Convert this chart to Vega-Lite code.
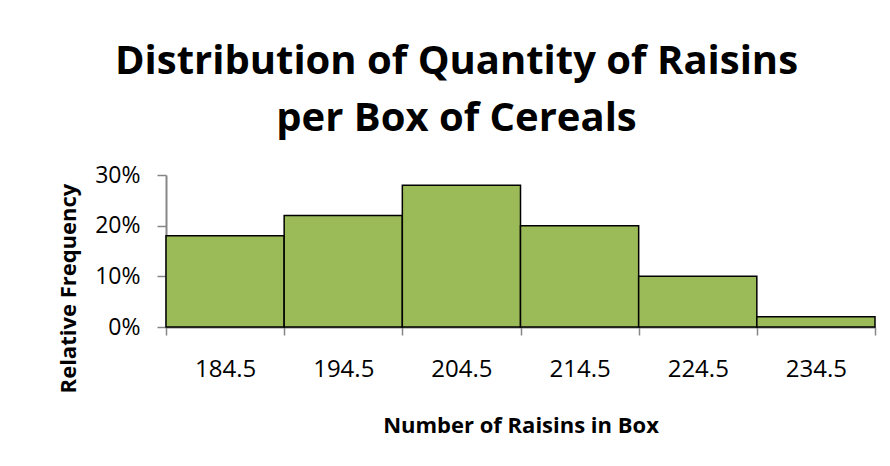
{
  "$schema": "https://vega.github.io/schema/vega-lite/v6.json",
  "width": 709,
  "height": 152,
  "autosize": {"type": "none"},
  "padding": {"left": 166, "top": 175, "right": 15, "bottom": 139},
  "background": "white",
  "config": {"view": {"stroke": null}, "font": "Open Sans"},
  "title": {
    "text": ["Distribution of Quantity of Raisins", "per Box of Cereals"],
    "font": "Open Sans",
    "fontSize": 40,
    "fontWeight": "bold",
    "color": "black",
    "anchor": "middle",
    "dx": -64,
    "offset": 25,
    "lineHeight": 57
  },
  "data": {
    "values": [
      {"midpoint": "184.5", "relFreq": 0.18},
      {"midpoint": "194.5", "relFreq": 0.22},
      {"midpoint": "204.5", "relFreq": 0.28},
      {"midpoint": "214.5", "relFreq": 0.20},
      {"midpoint": "224.5", "relFreq": 0.10},
      {"midpoint": "234.5", "relFreq": 0.02}
    ]
  },
  "mark": {"type": "bar", "fill": "#9BBB59", "stroke": "black", "strokeWidth": 1.5},
  "encoding": {
    "x": {
      "field": "midpoint",
      "type": "ordinal",
      "sort": null,
      "scale": {"paddingInner": 0, "paddingOuter": 0},
      "axis": {
        "title": "Number of Raisins in Box",
        "titleFont": "Open Sans",
        "titleFontSize": 22,
        "titleFontWeight": "bold",
        "titleColor": "black",
        "titlePadding": 34,
        "labelAngle": 0,
        "labelFont": "Open Sans",
        "labelFontSize": 24,
        "labelColor": "black",
        "labelPadding": 22,
        "tickBand": "extent",
        "tickSize": 8,
        "tickColor": "#868686",
        "tickWidth": 1.5,
        "domainColor": "#868686",
        "domainWidth": 2,
        "grid": false
      }
    },
    "y": {
      "field": "relFreq",
      "type": "quantitative",
      "scale": {"domain": [0, 0.3]},
      "axis": {
        "title": "Relative Frequency",
        "format": ".0%",
        "values": [0, 0.1, 0.2, 0.3],
        "titleFont": "Open Sans",
        "titleFontSize": 22,
        "titleFontWeight": "bold",
        "titleColor": "black",
        "titleX": -91,
        "titleY": 113,
        "titleBaseline": "alphabetic",
        "labelFont": "Open Sans",
        "labelFontSize": 23,
        "labelColor": "black",
        "labelPadding": 17,
        "tickSize": 9,
        "tickColor": "#868686",
        "tickWidth": 1.5,
        "domainColor": "#868686",
        "domainWidth": 2,
        "grid": false
      }
    }
  }
}
